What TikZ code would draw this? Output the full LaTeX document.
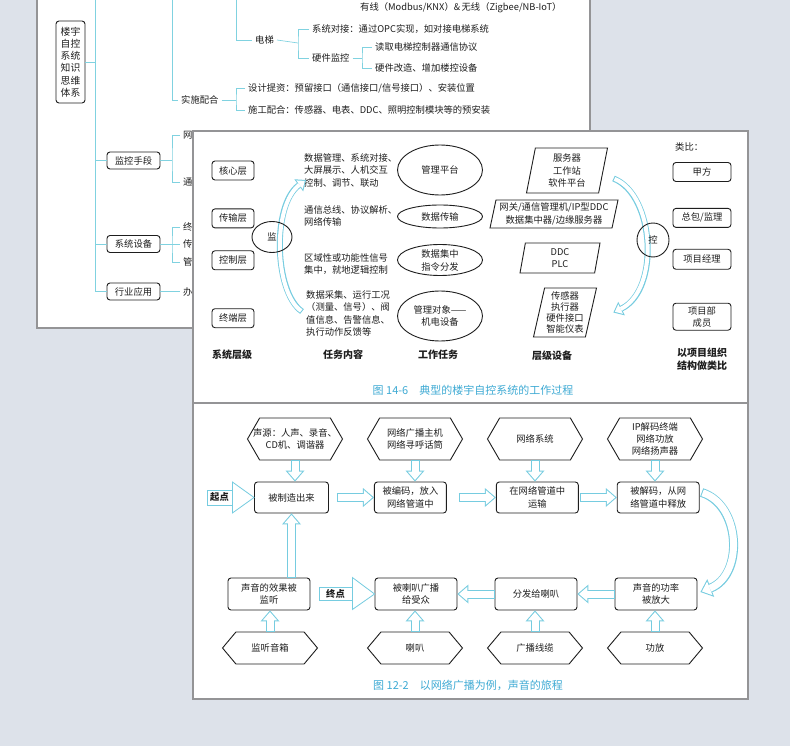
\documentclass[tikz,border=0pt]{standalone}
\usepackage{fontspec}
\setmainfont{Noto Sans CJK SC}
\usepackage{tikz}
\usetikzlibrary{shapes.geometric, shapes.symbols, arrows.meta, positioning, calc}

\definecolor{deskgrey}{RGB}{221,226,234}
\definecolor{pageedge}{RGB}{148,148,150}
\definecolor{pipe}{RGB}{118,204,224}
\definecolor{twigcyan}{RGB}{128,210,224}
\definecolor{capcyan}{RGB}{62,170,212}
\definecolor{ink}{RGB}{30,30,30}

\tikzset{
  pipe outer/.style={draw=pipe, line width=9pt, -{Triangle[length=11pt,width=19pt,line width=0pt]}},
  pipe inner/.style={draw=white, line width=7pt, shorten <=1pt, shorten >=1.6pt, -{Triangle[length=8.4pt,width=14.6pt,line width=0pt]}},
  slim outer/.style={draw=pipe, line width=6pt, -{Triangle[length=9pt,width=15pt,line width=0pt]}},
  slim inner/.style={draw=white, line width=4pt, shorten <=1pt, shorten >=1.6pt, -{Triangle[length=6.4pt,width=10.7pt,line width=0pt]}}
}
% hollow arrow: cyan pass, then white pass on top
\newcommand{\hollowlink}[2]{\draw[#1 outer] #2; \draw[#1 inner] #2;}

\begin{document}
\begin{tikzpicture}[x=1pt, y=-1pt, text=ink,
    font=\fontsize{9.3}{12.5}\selectfont,
    page/.style={draw=pageedge, line width=2.6pt, fill=white},
    twig/.style={draw=twigcyan, line width=0.7pt},
    topic/.style={rectangle, draw=ink, rounded corners=3pt, line width=0.9pt, minimum width=53pt, minimum height=17pt, inner sep=1pt},
    leaf/.style={anchor=west, inner xsep=3pt, inner ysep=0pt},
    tier/.style={rectangle, draw=ink, rounded corners=3pt, line width=0.9pt, minimum width=42pt, minimum height=19pt, inner sep=1pt, align=center},
    job/.style={anchor=west, align=left, inner sep=0pt},
    task/.style={ellipse, draw=ink, line width=0.9pt, minimum width=85pt, inner sep=0pt, align=center},
    device/.style={trapezium, trapezium left angle=76, trapezium right angle=104, trapezium stretches body, draw=ink, line width=0.9pt, inner sep=1pt, align=center},
    heading/.style={font=\fontsize{10}{13.5}\selectfont\bfseries, align=center},
    caption/.style={text=capcyan, font=\fontsize{11}{13}\selectfont},
    stage/.style={rectangle, draw=ink, rounded corners=3pt, line width=0.9pt, minimum width=82pt, minimum height=32pt, inner sep=1pt, align=center},
    source/.style={signal, signal to=east and west, signal pointer angle=120, draw=ink, line width=0.9pt, minimum width=95pt, minimum height=42pt, inner sep=1pt, align=center},
    endmark/.style={rectangle, draw=pipe, line width=0.8pt, fill=white, font=\fontsize{9.3}{11}\selectfont\bfseries, inner sep=1pt},
    marktip/.style={draw=pipe, line width=0.8pt, fill=white}
]
    \fill[deskgrey] (0,0) rectangle (790,746);
    \useasboundingbox (0,0) rectangle (790,746);

    % top page: mind map
    \draw[page] (37,-10) rectangle (590,328);
    \node[topic, minimum width=29pt, minimum height=82pt, align=center, font=\fontsize{9.8}{12.2}\selectfont] (root) at (70.5,62) {楼宇\\自控\\系统\\知识\\思维\\体系};
    \coordinate (trunk top) at (95,-10);
    \node[topic] (monitor) at (133.5,160.5) {监控手段};
    \node[topic] (equip) at (133.5,244) {系统设备};
    \node[topic] (trade) at (133.5,291.5) {行业应用};
    \draw[twig] (root.east) -- (root.east -| trunk top);
    \draw[twig] (trunk top) |- (trade.west);
    \draw[twig] (monitor.west -| trunk top) -- (monitor.west);
    \draw[twig] (equip.west -| trunk top) -- (equip.west);

    \coordinate (branch top) at (172,-10);
    \node[leaf] (impl) at (178,100) {实施配合};
    \draw[twig] (branch top) |- (impl.west);
    \coordinate (lift top) at (236,-10);
    \node[leaf] (lift) at (252,40) {电梯};
    \draw[twig] (lift top) |- (lift.west);

    \node[leaf] (wire) at (357,8) {有线（Modbus/KNX）\&\,无线（Zigbee/NB-IoT）};
    \node[leaf] (lift link) at (309,29) {系统对接：通过OPC实现，如对接电梯系统};
    \node[leaf] (lift hw) at (309,58) {硬件监控};
    \node[leaf] (hw read) at (372,47) {读取电梯控制器通信协议};
    \node[leaf] (hw mod) at (372,68) {硬件改造、增加楼控设备};
    \coordinate (lift fork) at (298,43);
    \draw[twig] (lift.east) -- (lift fork);
    \draw[twig] (lift link.west) -| (lift fork) |- (lift hw.west);
    \coordinate (hw fork) at (362,58);
    \draw[twig] (lift hw.east) -- (hw fork);
    \draw[twig] (hw read.west) -| (hw fork) |- (hw mod.west);

    \node[leaf] (design) at (245,88) {设计提资：预留接口（通信接口/信号接口）、安装位置};
    \node[leaf] (site) at (245,110) {施工配合：传感器、电表、DDC、照明控制模块等的预安装};
    \coordinate (impl fork) at (236,100);
    \draw[twig] (impl.east) -- (impl fork);
    \draw[twig] (design.west) -| (impl fork) |- (site.west);

    \node[leaf] (net) at (180,135) {网络监控};
    \node[leaf] (comm) at (180,182) {通信方式};
    \coordinate (monitor fork) at (172,160.5);
    \draw[twig] (monitor.east) -- (monitor fork);
    \draw[twig] (net.west) -| (monitor fork) |- (comm.west);
    \node[leaf] (endpt) at (180,227) {终端设备};
    \node[leaf] (carrier) at (180,244) {传输设备};
    \node[leaf] (admin) at (180,262) {管理设备};
    \coordinate (equip fork) at (172,244);
    \draw[twig] (equip.east) -- (carrier.west);
    \draw[twig] (endpt.west) -| (equip fork) |- (admin.west);
    \node[leaf] (office) at (180,291.5) {办公建筑};
    \draw[twig] (trade.east) -- (office.west);

    % middle page: Fig 14-6
    \draw[page] (193,131) rectangle (748,403);
    \node[tier] (core) at (233,170.5) {核心层};
    \node[tier, below=28pt of core] (trans) {传输层};
    \node[tier, below=22pt of trans] (ctrl) {控制层};
    \node[tier, below=38pt of ctrl] (term) {终端层};

    \node[job] (job1) at (304,170) {数据管理、系统对接、\\大屏展示、人机交互\\控制、调节、联动};
    \node[job] (job2) at (304,216) {通信总线、协议解析、\\网络传输};
    \node[job] (job3) at (304,264) {区域性或功能性信号\\集中，就地逻辑控制};
    \node[job] (job4) at (306,313.5) {数据采集、运行工况\\（测量、信号）、阀\\值信息、告警信息、\\执行动作反馈等};

    \hollowlink{slim}{($(job4.west)+(-4,-2)$) .. controls (274,292) and (272,205) .. ($(job1.west)+(2,10)$)}
    \node[ellipse, draw=ink, line width=0.9pt, minimum width=40pt, minimum height=31pt, inner sep=0pt] (watch) at (272,237) {监};

    \node[task, minimum height=50pt] (platform) at (440,170) {管理平台};
    \node[task, minimum height=23pt] (transfer) at (440,216.5) {数据传输};
    \node[task, minimum height=31pt, label={[align=center, font=\fontsize{9.3}{13}\selectfont]center:数据集中\\指令分发}] (dispatch) at (440,260) {};
    \node[task, minimum height=50pt] (object) at (440,316) {管理对象——\\机电设备};

    \node[device, minimum width=81pt, minimum height=45pt] (server) at (567,170.5) {服务器\\工作站\\软件平台};
    \node[device, minimum width=128pt, minimum height=28pt] (gateway) at (554,214) {网关/通信管理机/IP型DDC\\数据集中器/边缘服务器};
    \node[device, minimum width=80pt, minimum height=30pt] (ddc) at (560,258) {DDC\\PLC};
    \node[device, minimum width=63pt, minimum height=49pt, font=\fontsize{9.3}{11.3}\selectfont] (sensor) at (565,312.5) {传感器\\执行器\\硬件接口\\智能仪表};

    \hollowlink{slim}{($(server.east)+(10,8)$) .. controls (655,195) and (660,290) .. ($(sensor.east)+(22,0)$)}
    \node[ellipse, draw=ink, line width=0.9pt, minimum width=32pt, minimum height=34pt, inner sep=0pt] (steer) at (653,240) {控};

    \node[leaf] (analog) at (672,147) {类比：};
    \node[tier, minimum width=58pt] (owner) at (702,172) {甲方};
    \node[tier, minimum width=58pt, below=26pt of owner] (super) {总包/监理};
    \node[tier, minimum width=58pt, minimum height=20pt, below=21pt of super] (manager) {项目经理};
    \node[tier, minimum width=58pt, minimum height=27pt, font=\fontsize{9.3}{12}\selectfont, below=33pt of manager] (staff) {项目部\\成员};

    \node[heading] (h layer) at (232,355) {系统层级};
    \node[heading] (h job) at (343,355) {任务内容};
    \node[heading] (h task) at (438,355) {工作任务};
    \node[heading] (h device) at (552,356) {层级设备};
    \node[heading] (h analog) at (702,359) {以项目组织\\结构做类比};
    \node[caption] (cap146) at (473,390) {图 14-6\hspace{1em}典型的楼宇自控系统的工作过程};

    % bottom page: Fig 12-2
    \draw[page] (193,403) rectangle (748,699);
    \node[source, inner xsep=-10pt] (src) at (295,439) {声源：人声、录音、\\CD机、调谐器};
    \node[source] (host) at (415,439) {网络广播主机\\网络寻呼话筒};
    \node[source] (netsys) at (535,439) {网络系统};
    \node[source, font=\fontsize{9.3}{12}\selectfont] (ipend) at (655,439) {IP解码终端\\网络功放\\网络扬声器};

    \node[stage, minimum width=74pt, minimum height=31pt] (made) at (291.5,497.5) {被制造出来};
    \node[stage, minimum width=72pt, minimum height=31pt, right=45pt of made] (encode) {被编码，放入\\网络管道中};
    \node[stage, minimum height=31pt, right=49pt of encode] (carry) {在网络管道中\\运输};
    \node[stage, minimum height=31pt, right=38pt of carry] (decode) {被解码，从网\\络管道中释放};

    \node[stage] (heard) at (269,594) {声音的效果被\\监听};
    \node[stage] (spread) at (416,594) {被喇叭广播\\给受众};
    \node[stage] (deliver) at (536,594) {分发给喇叭};
    \node[stage] (amplify) at (656,594) {声音的功率\\被放大};

    \node[source, signal pointer angle=100, minimum height=32pt] (spk) at (270,648) {监听音箱};
    \node[source, signal pointer angle=100, minimum height=32pt] (horn) at (415,648) {喇叭};
    \node[source, signal pointer angle=100, minimum height=32pt] (cable) at (535,648) {广播线缆};
    \node[source, signal pointer angle=100, minimum height=32pt] (amp) at (655,648) {功放};

    \node[endmark, minimum width=25pt, minimum height=15pt] (start) at (219.5,497.5) {起点};
    \draw[marktip] ($(start.east)+(0,-15.5)$) -- (made.west) -- ($(start.east)+(0,15.5)$) -- cycle;
    \node[endmark, minimum width=33pt, minimum height=13pt] (finish) at (335.5,593.5) {终点};
    \draw[marktip] ($(finish.east)+(0,-16)$) -- (spread.west) -- ($(finish.east)+(0,16)$) -- cycle;

    \hollowlink{pipe}{(src.south) -- (src.south |- made.north)}
    \hollowlink{pipe}{(host.south) -- (host.south |- encode.north)}
    \hollowlink{pipe}{(netsys.south) -- (netsys.south |- carry.north)}
    \hollowlink{pipe}{(ipend.south) -- (ipend.south |- decode.north)}
    \hollowlink{pipe}{($(made.east)+(8,0)$) -- (encode.west)}
    \hollowlink{pipe}{($(encode.east)+(12,0)$) -- (carry.west)}
    \hollowlink{pipe}{($(carry.east)+(1,0)$) -- (decode.west)}
    \hollowlink{pipe}{($(decode.east)+(2,-5)$) .. controls (741,505) and (744,575) .. ($(amplify.east)+(3,-2)$)}
    \hollowlink{pipe}{(amplify.west) -- (deliver.east)}
    \hollowlink{pipe}{(deliver.west) -- (spread.east)}
    \hollowlink{pipe}{(spk.north) -- (spk.north |- heard.south)}
    \hollowlink{pipe}{(horn.north) -- (horn.north |- spread.south)}
    \hollowlink{pipe}{(cable.north) -- (cable.north |- deliver.south)}
    \hollowlink{pipe}{(amp.north) -- (amp.north |- amplify.south)}
    \hollowlink{pipe}{(heard.north -| made) -- (made.south)}

    \node[caption] (cap122) at (468,685) {图 12-2\hspace{1em}以网络广播为例，声音的旅程};
\end{tikzpicture}
\end{document}
